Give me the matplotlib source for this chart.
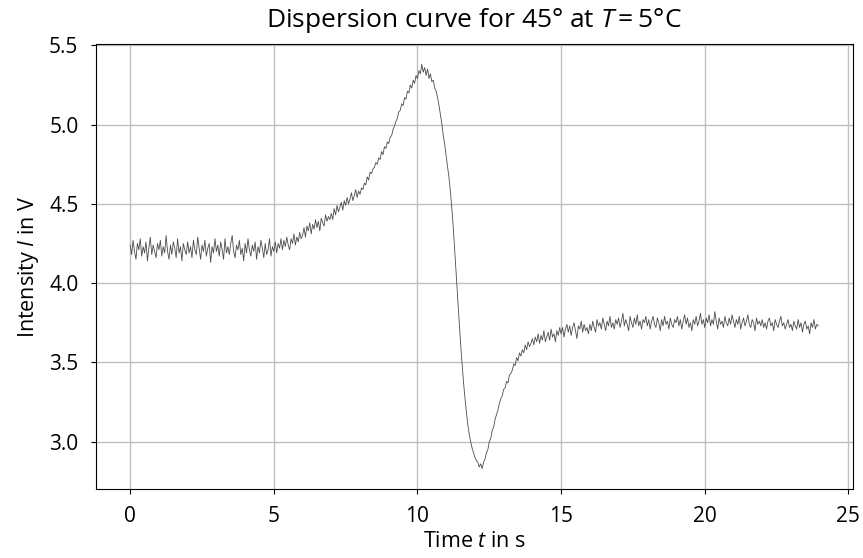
import numpy as np
import matplotlib.pyplot as plt

plt.rcParams['font.family'] = ['Open Sans', 'DejaVu Sans']
plt.rcParams['mathtext.fontset'] = 'custom'
plt.rcParams['mathtext.rm'] = 'Open Sans'
plt.rcParams['mathtext.it'] = 'Open Sans:italic'

# sampling step of the measurement (s)
dt = 0.05

# intensity in V, every 0.05 s (one row = 1 s)
intensity = [
    4.24, 4.18, 4.27, 4.20, 4.15, 4.25, 4.21, 4.28, 4.17, 4.23, 4.19, 4.26, 4.14, 4.22, 4.29, 4.18, 4.24, 4.20, 4.16, 4.25,
    4.21, 4.27, 4.17, 4.23, 4.19, 4.30, 4.20, 4.15, 4.24, 4.18, 4.26, 4.22, 4.16, 4.28, 4.19, 4.23, 4.14, 4.25, 4.21, 4.18,
    4.26, 4.19, 4.23, 4.16, 4.27, 4.21, 4.18, 4.29, 4.22, 4.15, 4.24, 4.20, 4.27, 4.17, 4.22, 4.25, 4.13, 4.23, 4.19, 4.28,
    4.20, 4.24, 4.17, 4.26, 4.21, 4.15, 4.28, 4.19, 4.23, 4.18, 4.25, 4.30, 4.20, 4.16, 4.24, 4.21, 4.27, 4.18, 4.22, 4.14,
    4.25, 4.19, 4.28, 4.21, 4.17, 4.24, 4.20, 4.26, 4.15, 4.23, 4.19, 4.27, 4.22, 4.16, 4.25, 4.18, 4.21, 4.28, 4.17, 4.23,
    4.20, 4.26, 4.19, 4.25, 4.22, 4.28, 4.21, 4.27, 4.23, 4.29, 4.24, 4.21, 4.28, 4.25, 4.31, 4.24, 4.29, 4.26, 4.32, 4.28,
    4.30, 4.35, 4.29, 4.36, 4.33, 4.38, 4.31, 4.37, 4.34, 4.40, 4.35, 4.39, 4.33, 4.41, 4.38, 4.36, 4.43, 4.39, 4.42, 4.40,
    4.44, 4.40, 4.47, 4.43, 4.49, 4.45, 4.48, 4.51, 4.46, 4.52, 4.49, 4.54, 4.50, 4.53, 4.57, 4.52, 4.55, 4.59, 4.54, 4.58,
    4.56, 4.60, 4.59, 4.63, 4.62, 4.67, 4.65, 4.70, 4.69, 4.72, 4.73, 4.76, 4.75, 4.79, 4.78, 4.83, 4.81, 4.86, 4.85, 4.89,
    4.88, 4.92, 4.93, 4.97, 4.99, 5.02, 5.04, 5.08, 5.09, 5.13, 5.12, 5.17, 5.16, 5.21, 5.20, 5.25, 5.23, 5.28, 5.26, 5.31,
    5.29, 5.34, 5.32, 5.38, 5.33, 5.36, 5.31, 5.35, 5.29, 5.32, 5.27, 5.28, 5.23, 5.21, 5.17, 5.12, 5.06, 5.00, 4.93, 4.87,
    4.80, 4.73, 4.66, 4.57, 4.46, 4.34, 4.20, 4.05, 3.90, 3.76, 3.62, 3.50, 3.38, 3.28, 3.19, 3.11, 3.05, 3.00, 2.96, 2.93,
    2.90, 2.88, 2.87, 2.84, 2.86, 2.83, 2.87, 2.89, 2.93, 2.95, 3.00, 3.02, 3.07, 3.09, 3.14, 3.17, 3.20, 3.24, 3.27, 3.29,
    3.33, 3.34, 3.38, 3.37, 3.42, 3.43, 3.45, 3.49, 3.48, 3.53, 3.51, 3.56, 3.54, 3.58, 3.56, 3.61, 3.58, 3.63, 3.60, 3.62,
    3.65, 3.61, 3.66, 3.63, 3.68, 3.62, 3.67, 3.64, 3.70, 3.63, 3.66, 3.69, 3.64, 3.71, 3.66, 3.68, 3.63, 3.70, 3.67, 3.72,
    3.68, 3.72, 3.66, 3.71, 3.74, 3.69, 3.73, 3.67, 3.72, 3.75, 3.70, 3.65, 3.73, 3.71, 3.76, 3.69, 3.74, 3.70, 3.72, 3.68,
    3.74, 3.70, 3.76, 3.72, 3.69, 3.77, 3.73, 3.75, 3.71, 3.78, 3.74, 3.70, 3.76, 3.73, 3.79, 3.72, 3.75, 3.71, 3.77, 3.74,
    3.78, 3.72, 3.76, 3.81, 3.73, 3.77, 3.74, 3.70, 3.79, 3.75, 3.72, 3.78, 3.74, 3.80, 3.73, 3.76, 3.71, 3.77, 3.75, 3.79,
    3.73, 3.77, 3.71, 3.76, 3.79, 3.74, 3.72, 3.78, 3.75, 3.70, 3.77, 3.73, 3.79, 3.74, 3.76, 3.71, 3.78, 3.74, 3.72, 3.77,
    3.75, 3.79, 3.73, 3.77, 3.71, 3.76, 3.80, 3.74, 3.78, 3.72, 3.75, 3.70, 3.77, 3.74, 3.79, 3.73, 3.76, 3.81, 3.74, 3.77,
    3.72, 3.78, 3.75, 3.80, 3.73, 3.77, 3.74, 3.82, 3.76, 3.71, 3.78, 3.74, 3.76, 3.72, 3.79, 3.75, 3.73, 3.78, 3.74, 3.80,
    3.76, 3.72, 3.77, 3.74, 3.79, 3.71, 3.75, 3.78, 3.73, 3.76, 3.80, 3.74, 3.72, 3.77, 3.75, 3.70, 3.78, 3.74, 3.76, 3.73,
    3.77, 3.72, 3.75, 3.71, 3.76, 3.78, 3.73, 3.75, 3.70, 3.77, 3.74, 3.72, 3.76, 3.79, 3.73, 3.75, 3.71, 3.74, 3.77, 3.72,
    3.74, 3.70, 3.76, 3.73, 3.71, 3.77, 3.72, 3.75, 3.69, 3.74, 3.76, 3.71, 3.73, 3.68, 3.75, 3.72, 3.77, 3.71, 3.74, 3.73,
]
time = np.arange(len(intensity)) * dt

fig, ax = plt.subplots(figsize=(8.63, 5.58), dpi=100)
fig.subplots_adjust(left=0.111, right=0.988, top=0.921, bottom=0.124)

ax.plot(time, intensity, color='0.3', lw=0.6)
ax.grid(True, color='0.75', lw=1.0)
ax.set_xticks([0, 5, 10, 15, 20, 25])
ax.tick_params(labelsize=15, pad=9)

ax.set_title(r'Dispersion curve for 45° at $T = 5$°C', fontsize=19, pad=12)
ax.set_xlabel(r'Time $t$ in s', fontsize=15.5, labelpad=3)
ax.set_ylabel(r'Intensity $I$ in V', fontsize=15.5, labelpad=6)

fig.savefig('out.png')
